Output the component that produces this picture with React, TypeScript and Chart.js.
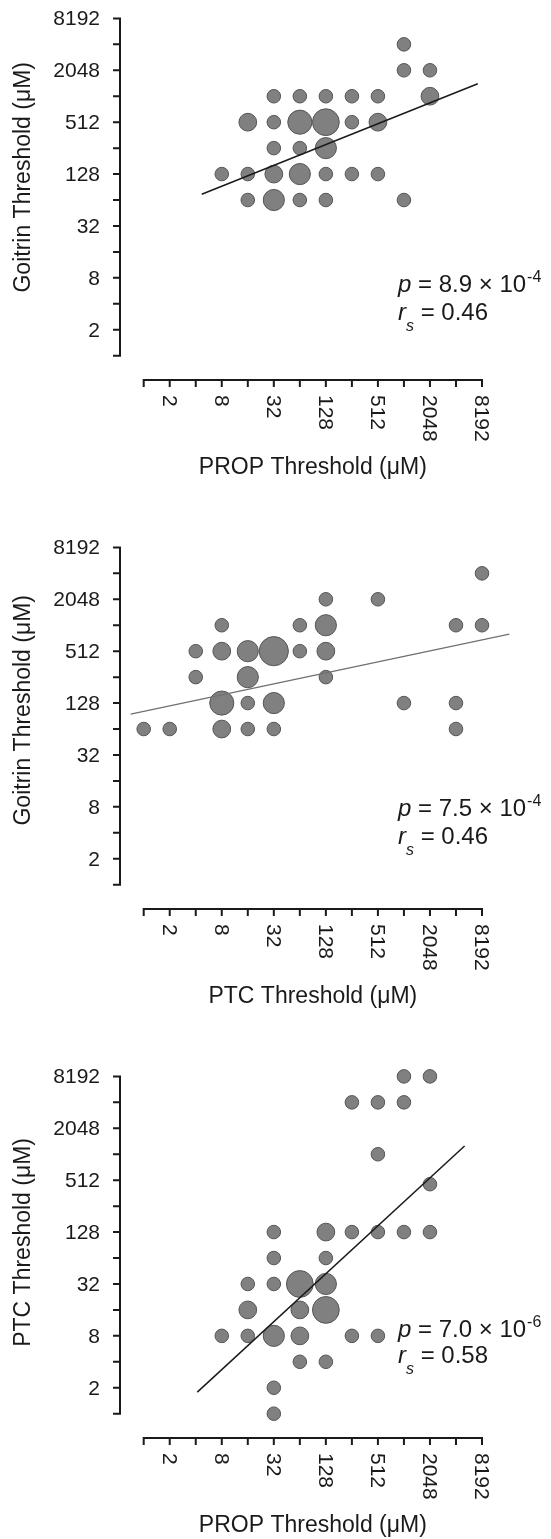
import React, { useEffect, useRef } from 'react';
import { Chart, registerables } from 'chart.js';

Chart.register(...registerables);

const FONT = '"Liberation Sans", Arial, Helvetica, sans-serif';

// Axis ticks (powers of two) and labelled ticks
const AXIS_TICKS = [1, 2, 4, 8, 16, 32, 64, 128, 256, 512, 1024, 2048, 4096, 8192];
const TICK_LABELS = [2, 8, 32, 128, 512, 2048, 8192];

// Panel 1: PROP threshold (x) vs Goitrin threshold (y); n = number of subjects at that point
const p1X = [1024, 1024, 2048, 32, 64, 128, 256, 512, 2048, 16, 32, 64, 128, 256, 512, 32, 64, 128, 8, 16, 32, 64, 128, 256, 512, 16, 32, 64, 128, 1024];
const p1Y = [4096, 2048, 2048, 1024, 1024, 1024, 1024, 1024, 1024, 512, 512, 512, 512, 512, 512, 256, 256, 256, 128, 128, 128, 128, 128, 128, 128, 64, 64, 64, 64, 64];
const p1N = [1, 1, 1, 1, 1, 1, 1, 1, 2, 2, 1, 4, 5, 1, 2, 1, 1, 3, 1, 1, 2, 3, 1, 1, 1, 1, 3, 1, 1, 1];
const p1FitX = [4.69, 7320];
const p1FitY = [74.6, 1430];

// Panel 2: PTC threshold (x) vs Goitrin threshold (y)
const p2X = [8192, 128, 512, 8, 64, 128, 4096, 8192, 4, 8, 16, 32, 64, 128, 4, 16, 128, 8, 16, 32, 1024, 4096, 1, 2, 8, 16, 32, 4096];
const p2Y = [4096, 2048, 2048, 1024, 1024, 1024, 1024, 1024, 512, 512, 512, 512, 512, 512, 256, 256, 256, 128, 128, 128, 128, 128, 64, 64, 64, 64, 64, 64];
const p2N = [1, 1, 1, 1, 1, 3, 1, 1, 1, 2, 3, 6, 1, 2, 1, 3, 1, 4, 1, 3, 1, 1, 1, 1, 2, 1, 1, 1];
const p2FitX = [0.707, 16970];
const p2FitY = [95, 810];

// Panel 3: PROP threshold (x) vs PTC threshold (y)
const p3X = [1024, 2048, 256, 512, 1024, 512, 2048, 32, 128, 256, 512, 1024, 2048, 32, 128, 16, 32, 64, 128, 16, 64, 128, 8, 16, 32, 64, 256, 512, 64, 128, 32, 32];
const p3Y = [8192, 8192, 4096, 4096, 4096, 1024, 460, 128, 128, 128, 128, 128, 128, 64, 64, 32, 32, 32, 32, 16, 16, 16, 8, 8, 8, 8, 8, 8, 4, 4, 2, 1];
const p3N = [1, 1, 1, 1, 1, 1, 1, 1, 2, 1, 1, 1, 1, 1, 1, 1, 1, 5, 3, 2, 2, 5, 1, 1, 3, 2, 1, 1, 1, 1, 1, 1];
const p3FitX = [4.17, 5150];
const p3FitY = [1.78, 1275];

type PanelCfg = {
  xs: number[]; ys: number[]; ns: number[];
  fitX: number[]; fitY: number[];
  fitColor: string; fitWidth: number;
  xTitle: string; yTitle: string; yTitleTop: number;
  pMain: string; pExp: string; rVal: string;
  pBase: number; rBase: number;
};

const PANELS: PanelCfg[] = [
  {
    xs: p1X, ys: p1Y, ns: p1N, fitX: p1FitX, fitY: p1FitY, fitColor: '#1a1a1a', fitWidth: 1.5,
    xTitle: 'PROP Threshold (\u03bcM)', yTitle: 'Goitrin Threshold (\u03bcM)', yTitleTop: 62,
    pMain: ' = 8.9 \u00d7 10', pExp: '-4', rVal: ' = 0.46', pBase: 291.5, rBase: 319.5,
  },
  {
    xs: p2X, ys: p2Y, ns: p2N, fitX: p2FitX, fitY: p2FitY, fitColor: '#707070', fitWidth: 1.3,
    xTitle: 'PTC Threshold (\u03bcM)', yTitle: 'Goitrin Threshold (\u03bcM)', yTitleTop: 66,
    pMain: ' = 7.5 \u00d7 10', pExp: '-4', rVal: ' = 0.46', pBase: 287, rBase: 315,
  },
  {
    xs: p3X, ys: p3Y, ns: p3N, fitX: p3FitX, fitY: p3FitY, fitColor: '#1a1a1a', fitWidth: 1.5,
    xTitle: 'PROP Threshold (\u03bcM)', yTitle: 'PTC Threshold (\u03bcM)', yTitleTop: 80,
    pMain: ' = 7.0 \u00d7 10', pExp: '-6', rVal: ' = 0.58', pBase: 279, rBase: 305,
  },
];

const radiusFor = (n: number) => Math.sqrt(18 + 35 * n) - 0.5;

const TEXT = '#1a1a1a';

const prismAxes = {
  id: 'prismAxes',
  afterDraw(chart: any, _args: any, opts: any) {
    const { ctx, chartArea: ca } = chart;
    const xs = chart.scales.x;
    const ys = chart.scales.y;
    const cfg: PanelCfg = opts.cfg;
    ctx.save();
    ctx.strokeStyle = TEXT;
    ctx.fillStyle = TEXT;
    ctx.lineWidth = 2;
    ctx.lineCap = 'butt';

    // Y axis
    const yl = ca.left - 23.7;
    const yTop = ys.getPixelForValue(8192);
    const yBot = ys.getPixelForValue(1);
    ctx.beginPath();
    ctx.moveTo(yl, yTop - 1);
    ctx.lineTo(yl, yBot + 1);
    for (const v of AXIS_TICKS) {
      const py = ys.getPixelForValue(v);
      ctx.moveTo(yl, py);
      ctx.lineTo(yl - 7, py);
    }
    ctx.stroke();

    // X axis
    const xb = ca.bottom + 24.3;
    const xL = xs.getPixelForValue(1);
    const xR = xs.getPixelForValue(8192);
    ctx.beginPath();
    ctx.moveTo(xL - 1, xb);
    ctx.lineTo(xR + 1, xb);
    for (const v of AXIS_TICKS) {
      const px = xs.getPixelForValue(v);
      ctx.moveTo(px, xb);
      ctx.lineTo(px, xb + 7);
    }
    ctx.stroke();

    // Tick labels
    ctx.font = `21px ${FONT}`;
    ctx.textAlign = 'right';
    ctx.textBaseline = 'middle';
    for (const v of TICK_LABELS) {
      ctx.fillText(String(v), yl - 20, ys.getPixelForValue(v) + 1);
    }
    for (const v of TICK_LABELS) {
      const px = xs.getPixelForValue(v);
      ctx.save();
      ctx.translate(px - 1, xb + 15);
      ctx.rotate(Math.PI / 2);
      ctx.textAlign = 'left';
      ctx.textBaseline = 'middle';
      ctx.fillText(String(v), 0, 0);
      ctx.restore();
    }

    // Axis titles
    ctx.font = `23px ${FONT}`;
    ctx.textAlign = 'center';
    ctx.textBaseline = 'middle';
    ctx.fillText(cfg.xTitle, (xL + xR) / 2, xb + 88);
    ctx.save();
    ctx.translate(24, cfg.yTitleTop);
    ctx.rotate(-Math.PI / 2);
    ctx.textAlign = 'right';
    ctx.fillText(cfg.yTitle, 0, 0);
    ctx.restore();

    // Statistics
    const sx = 398;
    ctx.textAlign = 'left';
    ctx.textBaseline = 'alphabetic';
    ctx.font = `italic 24px ${FONT}`;
    ctx.fillText('p', sx, cfg.pBase);
    let w = ctx.measureText('p').width;
    ctx.font = `24px ${FONT}`;
    ctx.fillText(cfg.pMain, sx + w, cfg.pBase);
    w += ctx.measureText(cfg.pMain).width;
    ctx.font = `16px ${FONT}`;
    ctx.fillText(cfg.pExp, sx + w + 1, cfg.pBase - 10);

    ctx.font = `italic 24px ${FONT}`;
    ctx.fillText('r', sx, cfg.rBase);
    let wr = ctx.measureText('r').width;
    ctx.font = `italic 16px ${FONT}`;
    ctx.fillText('s', sx + wr, cfg.rBase + 11);
    wr += ctx.measureText('s').width;
    ctx.font = `24px ${FONT}`;
    ctx.fillText(cfg.rVal, sx + wr, cfg.rBase);

    ctx.restore();
  },
};

function Panel({ cfg, top, height }: { cfg: PanelCfg; top: number; height: number }) {
  const ref = useRef<HTMLCanvasElement>(null);
  useEffect(() => {
    const canvas = ref.current;
    if (!canvas) return;
    const bubbles = cfg.xs.map((x, i) => ({ x, y: cfg.ys[i], r: radiusFor(cfg.ns[i]) }));
    const fit = cfg.fitX.map((x, i) => ({ x, y: cfg.fitY[i] }));
    const chart = new Chart(canvas, {
      type: 'bubble',
      data: {
        datasets: [
          {
            type: 'line',
            data: fit,
            borderColor: cfg.fitColor,
            borderWidth: cfg.fitWidth,
            pointRadius: 0,
            fill: false,
            clip: false,
          } as any,
          {
            type: 'bubble',
            data: bubbles,
            backgroundColor: '#808080',
            borderColor: '#555555',
            borderWidth: 1,
            clip: false,
          } as any,
        ],
      },
      options: {
        responsive: false,
        maintainAspectRatio: false,
        animation: false,
        devicePixelRatio: 1,
        events: [],
        layout: {
          autoPadding: false,
          padding: { left: 143.7, right: 551 - 482, top: 18.4, bottom: height - 355.7 },
        },
        scales: {
          x: { type: 'logarithmic', min: 1, max: 8192, display: false },
          y: { type: 'logarithmic', min: 1, max: 8192, display: false },
        },
        plugins: {
          legend: { display: false },
          tooltip: { enabled: false },
          prismAxes: { cfg },
        } as any,
      },
      plugins: [prismAxes],
    } as any);
    return () => chart.destroy();
  }, [cfg, height]);
  return (
    <canvas
      ref={ref}
      width={551}
      height={height}
      style={{ position: 'absolute', left: 0, top, width: 551, height, display: 'block' }}
    />
  );
}

export default function App() {
  return (
    <div style={{ position: 'absolute', left: 0, top: 0, width: 551, height: 1539, background: '#fff', overflow: 'hidden' }}>
      <Panel cfg={PANELS[0]} top={0} height={529} />
      <Panel cfg={PANELS[1]} top={529} height={529} />
      <Panel cfg={PANELS[2]} top={1058} height={481} />
    </div>
  );
}
